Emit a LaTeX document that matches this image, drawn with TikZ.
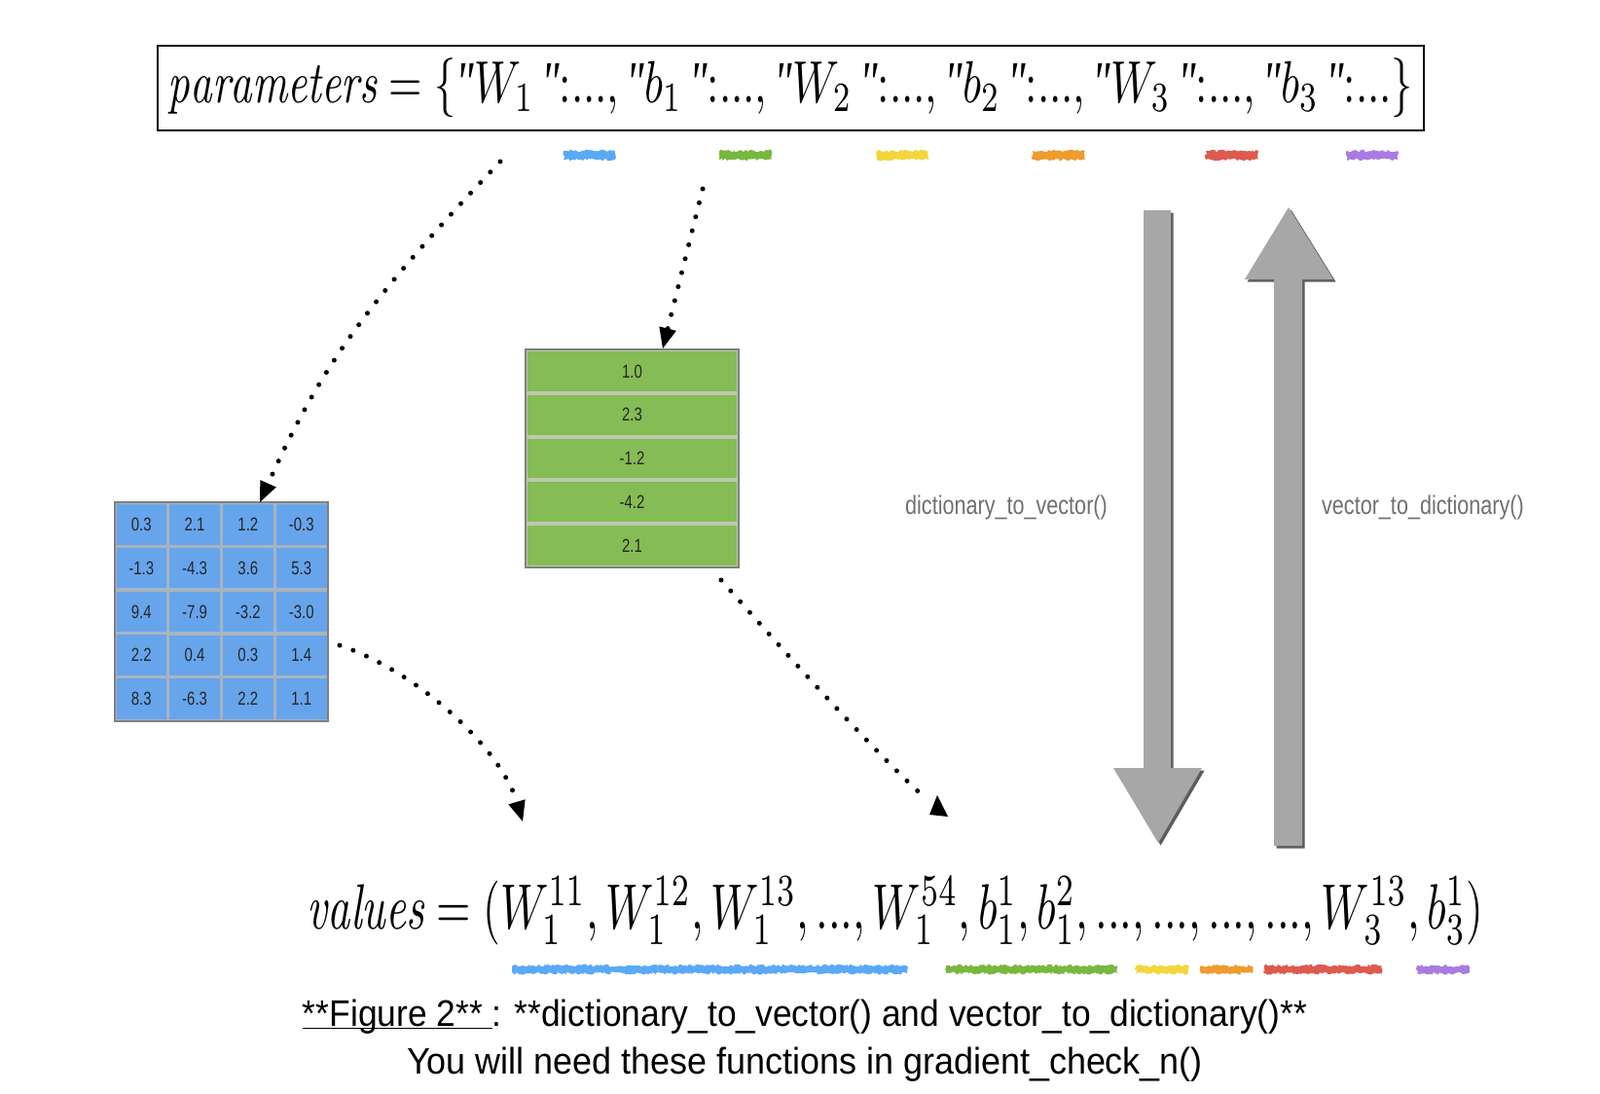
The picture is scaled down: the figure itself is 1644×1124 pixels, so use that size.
\documentclass[tikz,border=0pt]{standalone}
\usepackage{fontspec}
\usepackage{graphicx}
\usetikzlibrary{matrix,arrows.meta,shadows,decorations.pathmorphing}
\newfontfamily\cellfont[FakeStretch=0.78]{Liberation Sans}
\newfontfamily\labfont[FakeStretch=0.8]{Liberation Sans}
\newfontfamily\capfont{Liberation Sans}
\newfontfamily\qfont[Ligatures=ResetAll]{Liberation Serif}
\definecolor{matblue}{HTML}{66A5EC}
\definecolor{vecgreen}{HTML}{85BC55}
\definecolor{arrgray}{HTML}{A6A7A6}
\definecolor{labgray}{HTML}{707070}
\definecolor{outline}{HTML}{808080}
\definecolor{bline}{HTML}{A9B4BF}
\definecolor{gline}{HTML}{BCC9B0}
\definecolor{hlblue}{HTML}{5AA9F5}
\definecolor{hlgreen}{HTML}{78B83E}
\definecolor{hlyellow}{HTML}{F2D63C}
\definecolor{hlorange}{HTML}{EE9B2F}
\definecolor{hlred}{HTML}{DC5B4E}
\definecolor{hlpurple}{HTML}{A97BE0}
\newcommand\myquote{\textnormal{\qfont\itshape"}}
\newcommand\mydots{{.}{.}{.}}
\begin{document}
\begin{tikzpicture}[x=0.5pt,y=-0.5pt,
  dotarrow/.style={line width=2.5pt, line cap=round, dash pattern=on 0pt off 7.4pt,
    -{Triangle[length=10.5pt,width=9pt,line width=0pt]}},
  dotline/.style={line width=2.5pt, line cap=round, dash pattern=on 0pt off 7.4pt},
  bcell/.style={draw=bline, line width=0.8pt, fill=matblue, minimum width=26.6pt,
    minimum height=21.6pt, inner sep=0pt, outer sep=0pt,
    font=\cellfont\fontsize{9.6}{11}\selectfont, text=black!85},
  gcell/.style={draw=gline, line width=1pt, fill=vecgreen, minimum width=108.5pt,
    minimum height=21.4pt, inner sep=0pt, outer sep=0pt,
    font=\cellfont\fontsize{9.6}{11}\selectfont, text=black!85},
  hl/.style={decorate, decoration={random steps, segment length=1pt, amplitude=0.7pt}},
  bigarrow/.style={fill=arrgray, drop shadow={shadow xshift=1.3pt, shadow yshift=-1.3pt, fill=black!70, opacity=0.9}},
  lab/.style={font=\labfont\fontsize{13.5}{16}\selectfont, text=labgray, inner sep=0pt},
  captext/.style={font=\capfont\fontsize{19}{22}\selectfont, text=black, inner sep=0pt, anchor=base},
]
\fill[white] (0,0) rectangle (1644,1124);
\useasboundingbox (0,0) rectangle (1644,1124);

% top formula box
\node[draw, line width=1.2pt, minimum width=650.5pt, minimum height=43.5pt, inner sep=0pt]
  (params) at (812.5,90.5)
  {\resizebox*{639.5pt}{30.5pt}{$\mathit{parameters}=\{\myquote W_1\,\myquote{:}\mydots,\myquote b_1\,\myquote{:}\mydots,\myquote W_2\,\myquote{:}\mydots,\myquote b_2\,\myquote{:}\mydots,\myquote W_3\,\myquote{:}\mydots,\myquote b_3\,\myquote{:}\mydots\}$}};

% highlight bars top
\fill[hlblue, hl]   (579,155) rectangle (632,164);
\fill[hlgreen, hl]  (739,155) rectangle (793,164);
\fill[hlyellow, hl] (901,155) rectangle (954,164);
\fill[hlorange, hl] (1061,155) rectangle (1115,164);
\fill[hlred, hl]    (1239,155) rectangle (1293,164);
\fill[hlpurple, hl] (1384,155) rectangle (1436,164);

% matrix W1
\matrix (mat) [matrix of nodes, inner sep=0pt, outer sep=0pt, nodes={bcell},
  column sep=0pt, row sep=0pt] at (227.5,628.5) {
0.3 & 2.1 & 1.2 & -0.3\\
-1.3 & -4.3 & 3.6 & 5.3\\
9.4 & -7.9 & -3.2 & -3.0\\
2.2 & 0.4 & 0.3 & 1.4\\
8.3 & -6.3 & 2.2 & 1.1\\
};
\draw[outline, line width=0.9pt] (mat.north west) rectangle (mat.south east);

% vector b1
\matrix (vec) [matrix of nodes, inner sep=0pt, outer sep=0pt, nodes={gcell},
  row sep=0pt] at (649.5,471) {
1.0\\
2.3\\
-1.2\\
-4.2\\
2.1\\
};
\draw[outline, line width=0.9pt] (vec.north west) rectangle (vec.south east);

% bottom formula
\node[inner sep=0pt] (vals) at (920,936)
  {\resizebox*{604pt}{35pt}{$\mathit{values}=(W_1^{11},W_1^{12},W_1^{13},\mydots,W_1^{54},b_1^1,b_1^2,\mydots,\mydots,\mydots,\mydots,W_3^{13},b_3^1)$}};

% highlight bars bottom
\fill[hlblue, hl]   (527,992) rectangle (932,1000);
\fill[hlgreen, hl]  (972,992) rectangle (1148,1000);
\fill[hlyellow, hl] (1167,992) rectangle (1221,1000);
\fill[hlorange, hl] (1234,992) rectangle (1287,1000);
\fill[hlred, hl]    (1299,992) rectangle (1420,1000);
\fill[hlpurple, hl] (1456,992) rectangle (1509,1000);

% dotted connectors
\coordinate (s1) at (514,166);
\coordinate (e1) at (267,516);
\draw[dotarrow] (s1) .. controls (381,306) and (330,375) .. (e1);
\coordinate (s2) at (722,194);
\coordinate (e2) at (681,358);
\draw[dotarrow] (s2) -- (e2);
\coordinate (s3) at (349,663);
\coordinate (e3) at (537,844);
\draw[dotarrow] (s3) .. controls (430,690) and (515,770) .. (e3);
\coordinate (s4) at (741,596);
\coordinate (e4) at (953,822);
\draw[dotline] (s4) .. controls (794,656) and (895,770) .. (e4);
\fill (963,817) -- (974,839) -- (955,837) -- cycle;

% big gray arrows
\path[bigarrow] (1175,216) -- (1203,216) -- (1203,789) -- (1235,789) -- (1190,866)
  -- (1144,789) -- (1175,789) -- cycle;
\path[bigarrow] (1324,213) -- (1370,287) -- (1338,287) -- (1338,869) -- (1309,869)
  -- (1309,287) -- (1279,287) -- cycle;

% labels
\node[lab] (d2v) at (1034,522) {dictionary\_to\_vector()};
\node[lab] (v2d) at (1462,522) {vector\_to\_dictionary()};

% caption
\node[captext] (cap1) at (827,1054)
  {\resizebox{516pt}{\height}{\underline{\smash{**Figure 2**}\ }: **dictionary\_to\_vector() and vector\_to\_dictionary()**}};
\node[captext] (cap2) at (827,1103)
  {\resizebox{409pt}{\height}{You will need these functions in gradient\_check\_n()}};
\end{tikzpicture}
\end{document}
